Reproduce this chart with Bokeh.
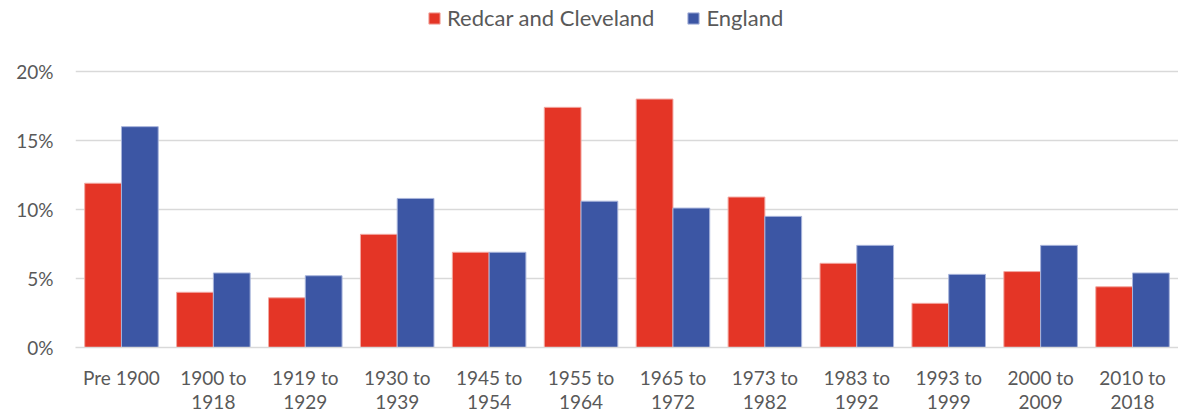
from bokeh.plotting import figure
from bokeh.models import ColumnDataSource, FixedTicker, PrintfTickFormatter, Legend, LegendItem, FactorRange
from bokeh.transform import dodge
from bokeh.embed import file_html
from bokeh.resources import INLINE

categories = ["Pre 1900", "1900 to\n1918", "1919 to\n1929", "1930 to\n1939", "1945 to\n1954",
              "1955 to\n1964", "1965 to\n1972", "1973 to\n1982", "1983 to\n1992", "1993 to\n1999",
              "2000 to\n2009", "2010 to\n2018"]
redcar = [11.9, 4.0, 3.6, 8.2, 6.9, 17.4, 18.0, 10.9, 6.1, 3.2, 5.5, 4.4]
england = [16.0, 5.4, 5.2, 10.8, 6.9, 10.6, 10.1, 9.5, 7.4, 5.3, 7.4, 5.4]
y_ticks = [0, 5, 10, 15, 20]

RED = "#E43526"
BLUE = "#3C56A4"
TXT = "#595959"
GRID = "#D9D9D9"
FONT = "Lato"

src = ColumnDataSource(dict(cat=categories, redcar=redcar, england=england))

p = figure(x_range=FactorRange(*categories, range_padding=0), y_range=(0, 25.14),
           width=1178, height=419, output_backend="svg", toolbar_location=None,
           min_border_left=75, min_border_right=0, min_border_bottom=72, min_border_top=0)
p.outline_line_color = None

r1 = p.vbar(x=dodge("cat", -0.2, range=p.x_range), top="redcar", width=0.4, source=src,
            fill_color=RED, line_color="#F2A8A2", line_width=1)
r2 = p.vbar(x=dodge("cat", 0.2, range=p.x_range), top="england", width=0.4, source=src,
            fill_color=BLUE, line_color="#A8B4DB", line_width=1)

p.xgrid.grid_line_color = None
p.ygrid.grid_line_color = GRID
p.ygrid.grid_line_width = 1.5
p.ygrid.ticker = FixedTicker(ticks=y_ticks)

p.yaxis.ticker = FixedTicker(ticks=y_ticks)
p.yaxis.formatter = PrintfTickFormatter(format="%d%%")
p.yaxis.axis_line_color = None
p.yaxis.major_tick_line_color = None
p.yaxis.minor_tick_line_color = None
p.yaxis.major_label_standoff = 16
p.yaxis.major_label_text_font_size = "19px"
p.yaxis.major_label_text_color = TXT
p.yaxis.major_label_text_font = FONT

p.xaxis.axis_line_color = GRID
p.xaxis.axis_line_width = 1.5
p.xaxis.major_tick_line_color = None
p.xaxis.minor_tick_line_color = None
p.xaxis.major_label_standoff = 12
p.xaxis.major_label_text_font_size = "19px"
p.xaxis.major_label_text_color = TXT
p.xaxis.major_label_text_font = FONT
p.xaxis.major_label_text_line_height = 1.05

legend = Legend(items=[LegendItem(label="Redcar and Cleveland", renderers=[r1]),
                       LegendItem(label="England", renderers=[r2])],
                orientation="horizontal", location=(352, 316),
                label_text_font_size="22px", label_text_color=TXT, label_text_font=FONT,
                glyph_width=14, glyph_height=14, spacing=32, label_standoff=6,
                border_line_color=None, background_fill_alpha=0,
                margin=0, padding=0)
p.add_layout(legend, "center")

open("out.html", "w").write(file_html(p, INLINE))
